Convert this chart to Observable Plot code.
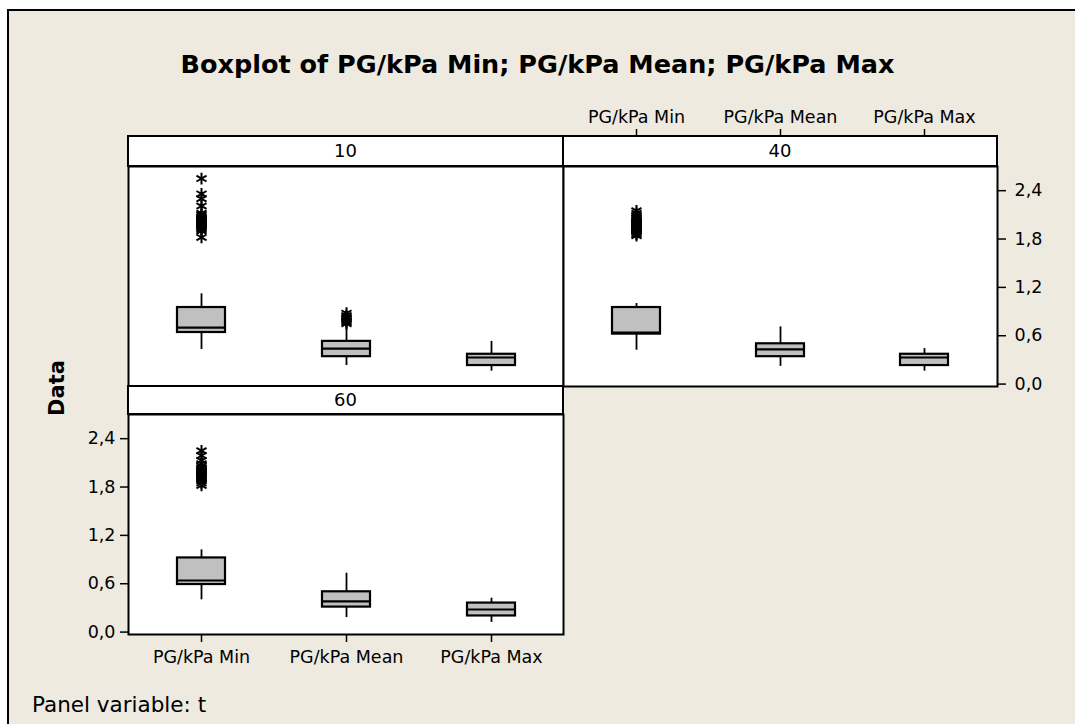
<!DOCTYPE html>
<html>
<head>
<meta charset="utf-8">
<script src="https://cdn.jsdelivr.net/npm/d3@7"></script>
<script src="https://cdn.jsdelivr.net/npm/@observablehq/plot@0.6"></script>
<style>
  html, body { margin: 0; padding: 0; background: #ffffff; }
  #page { position: relative; width: 1075px; height: 724px; overflow: hidden; font-family: "DejaVu Sans", Verdana, sans-serif; }
  #bg { position: absolute; left: 7px; top: 9px; width: 1080px; height: 730px; background: #EEEAE0; border-top: 2px solid #000; border-left: 2px solid #000; }
  .abs { position: absolute; }
  #title { left: 0; width: 1075px; top: 49px; text-align: center; font-weight: bold; font-size: 25.5px; color: #000; }
  #ylab { left: 57px; top: 388px; width: 0; height: 0; }
  #ylab span { position: absolute; left: 0; top: 0; transform: translate(-50%, -50%) rotate(-90deg); white-space: nowrap; display: block; font-weight: bold; font-size: 21px; }
  #caption { left: 32px; top: 692px; font-size: 21.5px; color: #000; }
</style>
</head>
<body>
<div id="page">
  <div id="bg"></div>
  <div id="title" class="abs">Boxplot of PG/kPa Min; PG/kPa Mean; PG/kPa Max</div>
  <div id="p10" class="abs"></div>
  <div id="p40" class="abs"></div>
  <div id="p60" class="abs"></div>
  <div id="ylab" class="abs"><span>Data</span></div>
  <div id="caption" class="abs">Panel variable: t</div>
</div>
<script>
// ---------- data ----------
const categories = ["PG/kPa Min", "PG/kPa Mean", "PG/kPa Max"];
const panelLabels = ["10", "40", "60"];
const yTicks = [0, 0.6, 1.2, 1.8, 2.4];

// t = 10
const t10Low = [0.43, 0.23, 0.16];
const t10Q1 = [0.64, 0.34, 0.23];
const t10Median = [0.70, 0.44, 0.33];
const t10Q3 = [0.95, 0.53, 0.37];
const t10High = [1.12, 0.73, 0.53];
const t10OutMin = [2.55, 2.36, 2.30, 2.21, 2.12, 2.10, 2.08, 2.06, 2.05, 2.04, 2.03, 2.02, 2.01, 2.00, 1.99, 1.98, 1.97, 1.96, 1.95, 1.94, 1.92, 1.90, 1.82];
const t10OutMean = [0.88, 0.85, 0.83, 0.81, 0.79, 0.77, 0.75];

// t = 40
const t40Low = [0.42, 0.22, 0.16];
const t40Q1 = [0.62, 0.34, 0.23];
const t40Median = [0.64, 0.43, 0.33];
const t40Q3 = [0.95, 0.50, 0.37];
const t40High = [1.00, 0.71, 0.44];
const t40OutMin = [2.15, 2.12, 2.09, 2.07, 2.05, 2.03, 2.02, 2.01, 2.00, 1.99, 1.98, 1.97, 1.96, 1.95, 1.94, 1.93, 1.92, 1.91, 1.90, 1.88, 1.86, 1.84];

// t = 60
const t60Low = [0.40, 0.18, 0.12];
const t60Q1 = [0.59, 0.31, 0.20];
const t60Median = [0.64, 0.38, 0.28];
const t60Q3 = [0.92, 0.50, 0.36];
const t60High = [1.02, 0.73, 0.42];
const t60OutMin = [2.25, 2.19, 2.13, 2.09, 2.06, 2.04, 2.02, 2.01, 2.00, 1.99, 1.98, 1.97, 1.96, 1.95, 1.94, 1.93, 1.92, 1.91, 1.90, 1.88, 1.85, 1.82];

// ---------- helpers ----------
const FONT = "'DejaVu Sans', Verdana, sans-serif";
const fmt = d => d.toFixed(1).replace(".", ",");

function rowsOf(low, q1, med, q3, high) {
  return categories.map((c, i) => ({cat: c, low: low[i], q1: q1[i], med: med[i], q3: q3[i], high: high[i]}));
}
function outRows(cat, vals) { return vals.map(v => ({cat, v})); }

function strip(label, h) {
  return (index, scales, values, dims) => {
    const g = d3.create("svg:g");
    const x0 = dims.marginLeft, x1 = dims.width - dims.marginRight;
    const y1 = dims.marginTop, y0 = y1 - h;
    g.append("rect").attr("x", x0).attr("y", y0).attr("width", x1 - x0).attr("height", h)
      .attr("fill", "white").attr("stroke", "black").attr("stroke-width", 2);
    g.append("text").attr("x", (x0 + x1) / 2).attr("y", y0 + h / 2).attr("dy", "0.36em")
      .attr("text-anchor", "middle").attr("font-size", 18).attr("font-family", FONT)
      .attr("fill", "black").text(label);
    return g.node();
  };
}

function panel({label, rows, outs, stripH, width, height, margin, axes}) {
  return Plot.plot({
    width, height,
    marginTop: margin[0], marginRight: margin[1], marginBottom: margin[2], marginLeft: margin[3],
    style: {background: "transparent", fontFamily: FONT, fontSize: "17.5px", color: "black"},
    x: {type: "band", domain: categories, paddingInner: 0.67, paddingOuter: 0.335, axis: null},
    y: {domain: [-0.03, 2.70], axis: null},
    marks: [
      Plot.frame({fill: "white"}),
      strip(label, stripH),
      Plot.ruleX(rows, {x: "cat", y1: "low", y2: "high", stroke: "black", strokeWidth: 1.8}),
      Plot.barY(rows, {x: "cat", y1: "q1", y2: "q3", fill: "#C0C0C0", stroke: "black", strokeWidth: 2.2}),
      Plot.tickY(rows, {x: "cat", y: "med", stroke: "black", strokeWidth: 2.2}),
      Plot.dot(outs, {x: "cat", y: "v", symbol: "asterisk", r: 5.5, stroke: "black", strokeWidth: 2}),
      ...axes,
      Plot.frame({stroke: "black", strokeWidth: 2})
    ]
  });
}

function place(id, left, top, node) {
  const el = document.getElementById(id);
  el.style.left = left + "px";
  el.style.top = top + "px";
  el.appendChild(node);
}

// t = 10 (top-left)
place("p10", 127, 135, panel({
  label: panelLabels[0],
  rows: rowsOf(t10Low, t10Q1, t10Median, t10Q3, t10High),
  outs: [...outRows(categories[0], t10OutMin), ...outRows(categories[1], t10OutMean)],
  stripH: 30, width: 437, height: 252, margin: [31, 1, 1, 1], axes: []
}));

// t = 40 (top-right) with top x axis and right y axis
place("p40", 562, 98, panel({
  label: panelLabels[1],
  rows: rowsOf(t40Low, t40Q1, t40Median, t40Q3, t40High),
  outs: outRows(categories[0], t40OutMin),
  stripH: 30, width: 505, height: 304, margin: [68, 70, 16, 1],
  axes: [
    Plot.axisX({anchor: "top", dy: -30, tickSize: 8, tickPadding: 6, label: null, strokeWidth: 1.5}),
    Plot.axisY(yTicks, {anchor: "right", tickSize: 8, tickPadding: 9, tickFormat: fmt, label: null, strokeWidth: 1.5})
  ]
}));

// t = 60 (bottom-left) with bottom x axis and left y axis
place("p60", 58, 385, panel({
  label: panelLabels[2],
  rows: rowsOf(t60Low, t60Q1, t60Median, t60Q3, t60High),
  outs: outRows(categories[0], t60OutMin),
  stripH: 28, width: 507, height: 294, margin: [29, 2, 45, 70],
  axes: [
    Plot.axisX({anchor: "bottom", tickSize: 8, tickPadding: 8, label: null, strokeWidth: 1.5}),
    Plot.axisY(yTicks, {anchor: "left", tickSize: 8, tickPadding: 5, tickFormat: fmt, label: null, strokeWidth: 1.5})
  ]
}));
</script>
</body>
</html>
